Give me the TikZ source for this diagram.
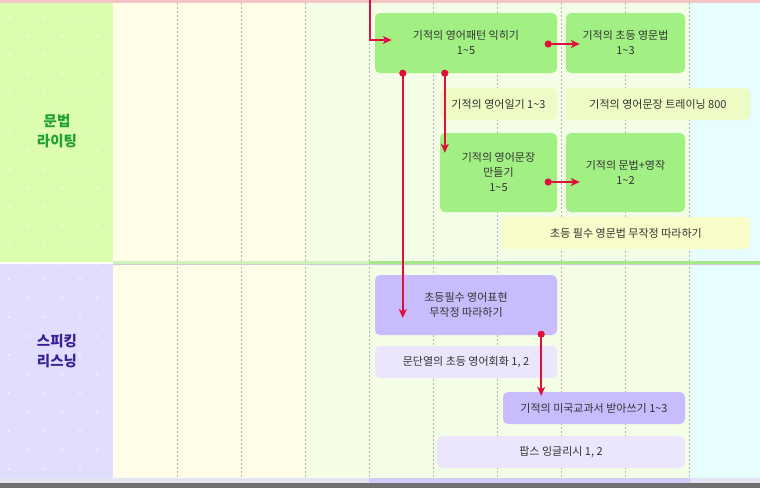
\documentclass[tikz,border=0pt]{standalone}
\usepackage{fontspec}
\setmainfont{Noto Sans CJK KR}
\usetikzlibrary{arrows.meta,calc}
\definecolor{bgcream}{HTML}{FFFDE8}
\definecolor{bggreen}{HTML}{F4FDE6}
\definecolor{bgcyan}{HTML}{E8FDFD}
\definecolor{leftgreen}{HTML}{DCFCB0}
\definecolor{leftpurple}{HTML}{E0DEFC}
\definecolor{topink}{HTML}{F5C4C4}
\definecolor{boxgreen}{HTML}{A2F084}
\definecolor{boxlgreen}{HTML}{ECFCC4}
\definecolor{boxyellow}{HTML}{F8FCC8}
\definecolor{boxpurple}{HTML}{C8BCFC}
\definecolor{boxlpurple}{HTML}{ECE6FC}
\definecolor{arrred}{HTML}{E0103C}
\definecolor{labgreen}{HTML}{20A030}
\definecolor{labpurple}{HTML}{3C1E96}
\definecolor{txt}{HTML}{333333}
\definecolor{divgreen}{HTML}{A4EA88}
\definecolor{divlgreen}{HTML}{CFF2BC}
\definecolor{botpurple}{HTML}{D4CCF8}
\definecolor{botlpurple}{HTML}{E2E4F4}
\definecolor{botdark}{HTML}{707070}
\begin{document}
\begin{tikzpicture}[x=1pt,y=-1pt,
  box/.style={rounded corners=5pt, inner sep=0pt, align=center, text=txt,
    font=\fontsize{11}{15}\selectfont},
  lab/.style={align=center, font=\bfseries\fontsize{14.5}{20}\selectfont},
  arr/.style={draw=arrred, line width=1.8pt, -{Stealth[length=9pt,width=8pt,inset=2.5pt]}},
  dotstart/.style={fill=arrred, draw=none},
  grid/.style={draw=gray!60, line width=0.6pt, dash pattern=on 2pt off 2pt}]
\useasboundingbox (0,0) rectangle (760,488);
% backgrounds
\fill[white] (0,0) rectangle (760,488);
\fill[bgcream] (113,3) rectangle (305,483);
\fill[bggreen] (305,3) rectangle (690,483);
\fill[bgcyan] (690,3) rectangle (760,483);
\fill[leftgreen] (0,3) rectangle (113,262);
\fill[leftpurple] (0,264) rectangle (113,480);
\fill[topink] (0,0) rectangle (760,3);
% dots in left column
\foreach \yy in {17,55,...,245} {
  \foreach \xx in {9,45,80} {\fill[white,opacity=0.45] (\xx,\yy) circle (1.7);}
  \foreach \xx in {27,62,97} {\fill[white,opacity=0.45] (\xx,\yy+19) circle (1.7);}
}
\foreach \yy in {279,317,...,470} {
  \foreach \xx in {9,45,80} {\fill[white,opacity=0.45] (\xx,\yy) circle (1.7);}
  \foreach \xx in {27,62,97} {\fill[white,opacity=0.45] (\xx,\yy+19) circle (1.7);}
}
% vertical dashed grid
\foreach \xx in {177,241,305,369,433,497,561,625,689}
  \draw[grid] (\xx,3) -- (\xx,483);
% section divider
\fill[divlgreen] (113,261) rectangle (369,264);
\fill[divgreen] (369,261) rectangle (760,264);
\fill[gray!40] (113,264) rectangle (760,265);
% bottom bands
\fill[botlpurple] (0,478) rectangle (369,483);
\fill[botpurple] (369,478) rectangle (690,483);
\fill[botlpurple] (690,478) rectangle (760,483);
\fill[botdark] (0,483) rectangle (760,488);
% section labels
\node[lab, text=labgreen] (sec1) at (57,131) {문법\\라이팅};
\node[lab, text=labpurple] (sec2) at (57,351) {스피킹\\리스닝};
% boxes
\node[box, fill=boxgreen, minimum width=182pt, minimum height=60pt] (b1) at (466,43) {기적의 영어패턴 익히기\\1\textasciitilde5};
\node[box, fill=boxgreen, minimum width=119pt, minimum height=60pt] (b2) at (625.5,43) {기적의 초등 영문법\\1\textasciitilde3};
\node[box, fill=boxlgreen, minimum width=117pt, minimum height=32pt] (b3) at (498.5,104) {기적의 영어일기 1\textasciitilde3};
\node[box, fill=boxlgreen, minimum width=184pt, minimum height=32pt] (b4) at (658,104) {기적의 영어문장 트레이닝 800};
\node[box, fill=boxgreen, minimum width=117pt, minimum height=79pt] (b5) at (498.5,172.5) {기적의 영어문장\\만들기\\1\textasciitilde5};
\node[box, fill=boxgreen, minimum width=119pt, minimum height=79pt] (b6) at (625.5,172.5) {기적의 문법+영작\\1\textasciitilde2};
\node[box, fill=boxyellow, minimum width=248pt, minimum height=32pt] (b7) at (626,233) {초등 필수 영문법 무작정 따라하기};
\node[box, fill=boxpurple, minimum width=182pt, minimum height=60pt] (b8) at (466,305) {초등필수 영어표현\\무작정 따라하기};
\node[box, fill=boxlpurple, minimum width=182pt, minimum height=32pt] (b9) at (466,362) {문단열의 초등 영어회화 1, 2};
\node[box, fill=boxpurple, minimum width=182pt, minimum height=32pt] (b10) at (594,408) {기적의 미국교과서 받아쓰기 1\textasciitilde3};
\node[box, fill=boxlpurple, minimum width=248pt, minimum height=32pt] (b11) at (561,452) {팝스 잉글리시 1, 2};
% arrow coordinates
\coordinate (atop) at (370,0);
\coordinate (aend) at ($(b1.west)+(17,-3)$);
\coordinate (bs) at ($(b1.east)+(-9,1)$);
\coordinate (be) at ($(b2.west)+(14,1)$);
\coordinate (cs) at ($(b1.south west)+(28,0)$);
\coordinate (ce) at ($(cs |- b8.center)+(0,13)$);
\coordinate (ds) at ($(b1.south west)+(70,0)$);
\coordinate (de) at ($(ds |- b5.north)+(0,20)$);
\coordinate (es) at ($(b5.east)+(-9,9.5)$);
\coordinate (ee) at ($(b6.west)+(14,9.5)$);
\coordinate (fs) at ($(b8.south east)+(-16,-1)$);
\coordinate (fe) at ($(fs |- b10.north)+(0,4)$);
% arrows
\draw[arr] (atop) |- (aend);
\draw[arr] (bs) -- (be);
\draw[arr] (cs) -- (ce);
\draw[arr] (ds) -- (de);
\draw[arr] (es) -- (ee);
\draw[arr] (fs) -- (fe);
\foreach \p in {bs,cs,ds,es,fs} \fill[dotstart] (\p) circle (3.6);
\end{tikzpicture}
\end{document}
